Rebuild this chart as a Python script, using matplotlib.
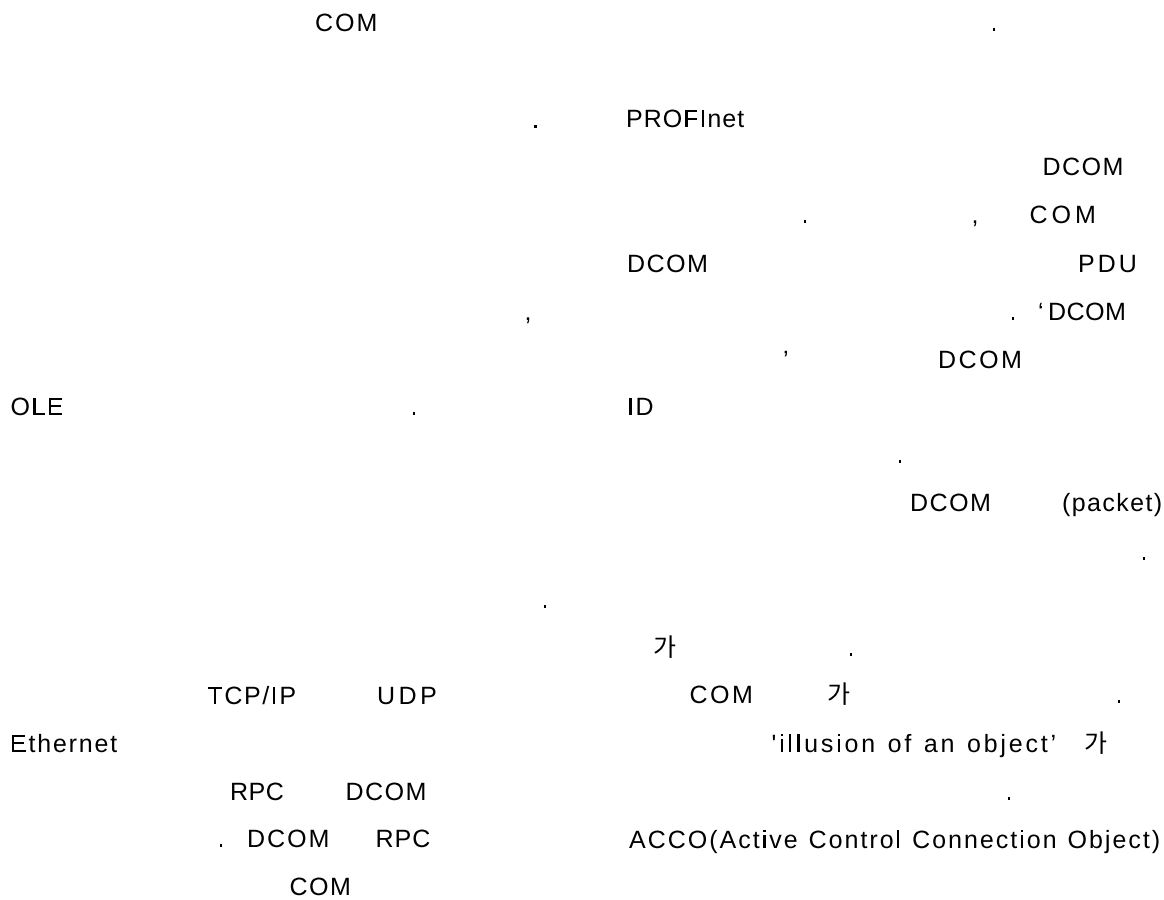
import matplotlib
matplotlib.use("Agg")
import matplotlib.pyplot as plt
from matplotlib import font_manager as fm
from matplotlib.ft2font import FT2Font
from matplotlib.textpath import TextPath
from matplotlib.patches import PathPatch
from matplotlib.transforms import Affine2D

# fragmentos de texto visibles (los glifos coreanos de la pagina no salen, solo estos)
textos = ["COM", ".", ",", "OLE", ".", ".", "TCP/IP", "UDP", "Ethernet",
          "RPC", "DCOM", ".", "DCOM", "RPC", "COM",
          ".", "PROFInet", "DCOM", ".", ",", "COM", "DCOM", "PDU",
          ".", "\u2018", "DCOM", "\u2019", "DCOM", "ID", ".", "DCOM", "(packet)", ".",
          "가", ".", "COM", "가", ".", "'illusion of an object\u2019", "가", ".",
          "ACCO(Active Control Connection Object)"]
x_pos = [315, 532, 524.5, 10.5, 410.5, 541.5, 207.5, 377, 10,
         230, 345.5, 217.5, 247, 375.5, 289.5,
         990.5, 626, 1042.5, 801.5, 971.5, 1029.5, 627, 1078,
         1009.5, 1038, 1048, 783, 938, 627, 896.5, 910, 1062, 1140.5,
         653, 847.5, 689.5, 827, 1115.5, 771.5, 1084, 1005.5,
         629]
y_pos = [31, 128, 320, 415, 415, 608, 704, 704, 752,
         800, 800, 847, 847, 847, 895,
         31, 127, 175, 223, 223, 223, 272, 272,
         320, 320, 320, 368, 368, 415, 463, 511, 511, 560,
         656, 656, 703, 703, 703, 752, 752, 800,
         848]
# espaciado extra entre letras (px)
espaciado = [2, 0, 0, 1.5, 0, 0, 1.6, 3.5, 1.8,
             0.5, 1.5, 0, 2, 1, 1.5,
             0, 1, 1.5, 0, 0, 4, 1.5, 3,
             0, 0, 0.5, 0, 2.5, 1.5, 0, 1.5, 1.4, 0,
             0, 0, 2.5, 0, 0, 2.8, 0, 0,
             2]

TAM = 18  # puntos
DPI = 100
EM = TAM * DPI / 72.0  # tamaño en px

plt.rcParams['font.family'] = ['Liberation Sans', 'Noto Sans CJK KR']
prop = fm.FontProperties(family=['Liberation Sans', 'Noto Sans CJK KR'])

ruta = fm.findfont(fm.FontProperties(family='Liberation Sans'))
fuente = FT2Font(ruta)
fuente.set_size(TAM, DPI)


def avance(c):
    g = fuente.load_char(ord(c))
    return g.linearHoriAdvance / 65536.0


fig = plt.figure(figsize=(11.64, 9), dpi=DPI)
ax = fig.add_axes([0, 0, 1, 1])
ax.set_xlim(0, 1164)
ax.set_ylim(900, 0)
ax.axis("off")


def letra(c, x, y):
    tp = TextPath((0, 0), c, size=EM, prop=prop)
    tr = Affine2D().scale(1, -1).translate(x, y) + ax.transData
    ax.add_patch(PathPatch(tp, facecolor="black", edgecolor="none", lw=0, transform=tr))


for t, x, y, esp in zip(textos, x_pos, y_pos, espaciado):
    if esp == 0 or len(t) == 1:
        letra(t, x, y)
        continue
    xc = x
    for c in t:
        if c != " ":
            letra(c, xc, y)
        xc += avance(c) + esp

fig.savefig("out.png", dpi=DPI, facecolor="white")
